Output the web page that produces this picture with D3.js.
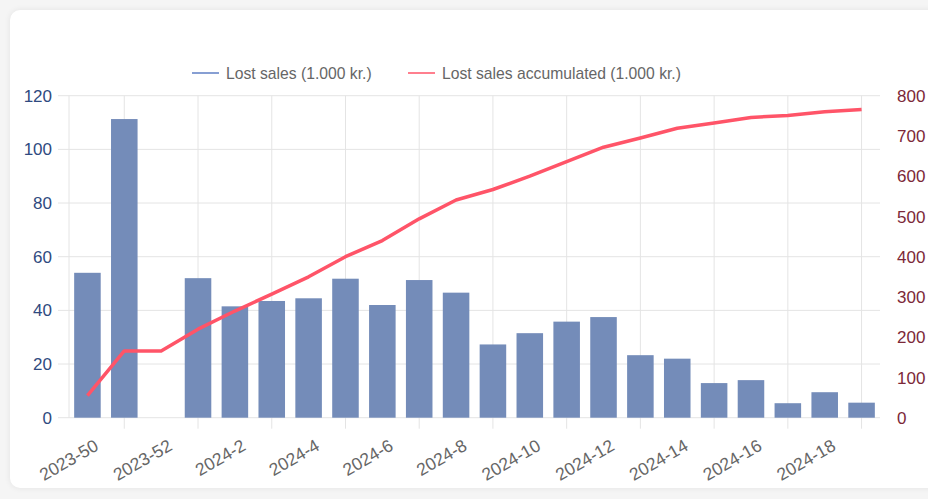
<!DOCTYPE html>
<html>
<head>
<meta charset="utf-8">
<script src="https://cdn.jsdelivr.net/npm/d3@7"></script>
<style>
  html, body { margin: 0; padding: 0; background: #f5f5f5; }
  body { width: 928px; height: 499px; overflow: hidden; position: relative; }
  .card {
    position: absolute; left: 10px; top: 10px; width: 940px; height: 478px;
    background: #fff; border-radius: 10px;
    box-shadow: 0 0 6px rgba(0,0,0,0.08);
  }
  svg { position: absolute; left: 0; top: 0; font-family: "Liberation Sans", Arial, Helvetica, sans-serif; }
</style>
</head>
<body>
<div class="card"></div>
<svg></svg>
<script>
let weeks = [
  "2023-50", "2023-51", "2023-52", "2024-1", "2024-2", "2024-3", "2024-4",
  "2024-5", "2024-6", "2024-7", "2024-8", "2024-9", "2024-10", "2024-11",
  "2024-12", "2024-13", "2024-14", "2024-15", "2024-16", "2024-17", "2024-18", "2024-19"
];

// weekly lost sales (1.000 kr.), 2023-52 has no bar
let lostSales = [
  54, 111.3, null, 52, 41.5, 43.5, 44.5, 51.8, 42, 51.3, 46.6, 27.3, 31.5,
  35.8, 37.5, 23.3, 22, 12.9, 14, 5.4, 9.5, 5.6
];

// running total
let lostAccum = [
  55, 166, 166, 220, 265, 307, 350, 400, 440, 494, 541, 567, 600, 636,
  672, 695, 719, 732, 746, 751, 760, 766
];

let leftTicks = [0, 20, 40, 60, 80, 100, 120];
let rightTicks = [0, 100, 200, 300, 400, 500, 600, 700, 800];

let width = 928;
let height = 499;
let plotLeft = 69;
let plotRight = 880;
let plotTop = 95.7;
let plotBottom = 417.7;

let barColor = "#748cb9";
let lineColor = "#ff5468";
let gridColor = "#e4e4e4";

let svg = d3.select("svg").attr("width", width).attr("height", height);

let xScale = d3.scaleBand().domain(weeks).range([plotLeft, plotRight]).padding(0);
let bw = xScale.bandwidth();
let cx = (w) => xScale(w) + bw / 2;

let yLeft = d3.scaleLinear().domain([0, 120]).range([plotBottom, plotTop]);
let yRight = d3.scaleLinear().domain([0, 800]).range([plotBottom, plotTop]);

// horizontal grid
svg.append("g")
  .selectAll("line")
  .data(leftTicks)
  .join("line")
  .attr("x1", plotLeft - 11)
  .attr("x2", plotRight)
  .attr("y1", (d) => yLeft(d))
  .attr("y2", (d) => yLeft(d))
  .attr("stroke", gridColor)
  .attr("stroke-width", 1);

// vertical grid sits between labelled ticks (odd weeks)
let gridWeeks = weeks.filter((w, i) => i % 2 === 1);
svg.append("g")
  .selectAll("line")
  .data(gridWeeks)
  .join("line")
  .attr("x1", (d) => cx(d))
  .attr("x2", (d) => cx(d))
  .attr("y1", plotTop)
  .attr("y2", plotBottom + 11)
  .attr("stroke", gridColor)
  .attr("stroke-width", 1);

svg.append("line")
  .attr("x1", plotLeft).attr("x2", plotLeft)
  .attr("y1", plotTop).attr("y2", plotBottom)
  .attr("stroke", gridColor);

// bars
svg.append("g")
  .selectAll("rect")
  .data(weeks.map((w, i) => ({ w: w, v: lostSales[i] })).filter((d) => d.v != null))
  .join("rect")
  .attr("x", (d) => xScale(d.w) + bw * 0.14)
  .attr("width", bw * 0.72)
  .attr("y", (d) => yLeft(d.v))
  .attr("height", (d) => yLeft(0) - yLeft(d.v))
  .attr("fill", barColor);

// accumulated line
let line = d3.line()
  .x((d, i) => cx(weeks[i]))
  .y((d) => yRight(d));

svg.append("path")
  .datum(lostAccum)
  .attr("d", line)
  .attr("fill", "none")
  .attr("stroke", lineColor)
  .attr("stroke-width", 3.5)
  .attr("stroke-linejoin", "round");

// left axis labels
svg.append("g")
  .selectAll("text")
  .data(leftTicks)
  .join("text")
  .attr("x", plotLeft - 17)
  .attr("y", (d) => yLeft(d))
  .attr("dy", "0.36em")
  .attr("text-anchor", "end")
  .attr("fill", "#2f4a80")
  .style("font-size", "17px")
  .text((d) => d);

// right axis labels
svg.append("g")
  .selectAll("text")
  .data(rightTicks)
  .join("text")
  .attr("x", plotRight + 17)
  .attr("y", (d) => yRight(d))
  .attr("dy", "0.36em")
  .attr("text-anchor", "start")
  .attr("fill", "#7c2838")
  .style("font-size", "17px")
  .text((d) => d);

// x labels every other week, rotated
let labelWeeks = weeks.filter((w, i) => i % 2 === 0 && i < 21);
svg.append("g")
  .selectAll("text")
  .data(labelWeeks)
  .join("text")
  .attr("transform", (d) => `translate(${cx(d) + 9}, ${plotBottom + 26}) rotate(-30)`)
  .attr("text-anchor", "end")
  .attr("dy", "0.36em")
  .attr("fill", "#666")
  .style("font-size", "17.5px")
  .text((d) => d);

// legend
let legend = [
  { label: "Lost sales (1.000 kr.)", color: "#5f7fc4", x: 192 },
  { label: "Lost sales accumulated (1.000 kr.)", color: "#ff5468", x: 408 }
];
let lg = svg.append("g").selectAll("g").data(legend).join("g")
  .attr("transform", (d) => `translate(${d.x}, 73)`);
lg.append("line")
  .attr("x1", 0).attr("x2", 27)
  .attr("stroke", (d) => d.color)
  .attr("stroke-width", 1.5);
lg.append("text")
  .attr("x", 34)
  .attr("dy", "0.36em")
  .attr("fill", "#666")
  .style("font-size", "15.7px")
  .text((d) => d.label);
</script>
</body>
</html>
